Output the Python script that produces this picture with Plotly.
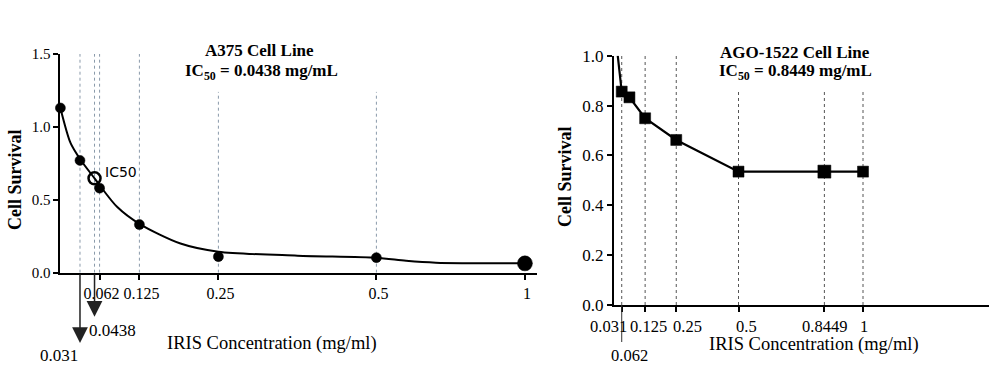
import plotly.graph_objects as go

# ---------------- data ----------------
# Left panel: A375 cell line
a375_conc = [0.0, 0.031, 0.062, 0.125, 0.25, 0.5, 1.0]
a375_surv = [1.13, 0.77, 0.58, 0.33, 0.11, 0.103, 0.064]
a375_fit_conc = [0.0, 0.016, 0.031, 0.054, 0.062, 0.09, 0.125, 0.19, 0.25, 0.375, 0.5, 0.6, 0.7, 1.0]
a375_fit_surv = [1.13, 0.89, 0.78, 0.647, 0.60, 0.45, 0.335, 0.20, 0.144, 0.117, 0.103, 0.082, 0.069, 0.064]
a375_ic50_label = "0.0438"
a375_ic50_pos = 0.054          # where the IC50 marker sits on the drawn axis
a375_ic50_surv = 0.647
a375_ticks = [0.062, 0.125, 0.25, 0.5, 1.0]
a375_tick_text = ["0.062", "0.125", "0.25", "0.5", "1"]
a375_guides_full = [0.031, 0.054, 0.062, 0.125]
a375_guides_short = [0.25, 0.5]

# Right panel: AGO-1522 cell line
ago_conc = [0.031, 0.062, 0.125, 0.25, 0.5, 0.8449, 1.0]
ago_surv = [0.856, 0.833, 0.749, 0.662, 0.535, 0.535, 0.535]
ago_line_conc = [0.015, 0.031, 0.062, 0.125, 0.25, 0.5, 0.8449, 1.0]
ago_line_surv = [1.0, 0.856, 0.833, 0.749, 0.662, 0.535, 0.535, 0.535]
ago_ticks = [0.031, 0.125, 0.25, 0.5, 0.8449, 1.0]
ago_tick_text = ["0.031", "0.125", "0.25", "0.5", "0.8449", "1"]
ago_guides_full = [0.031, 0.125, 0.25]
ago_guides_short = [0.5, 0.8449, 1.0]

FONT = "Liberation Serif"
W, H = 1000, 381


def brk(c):
    """Left panel x axis is compressed beyond 0.5 (broken axis)."""
    return c if c <= 0.5 else 0.5 + (c - 0.5) * 0.47


def px(x):
    return x / W


def py(y):
    return 1 - y / H


fig = go.Figure()

# ---- left panel traces ----
fig.add_trace(go.Scatter(
    x=[brk(c) for c in a375_fit_conc], y=a375_fit_surv, mode="lines",
    line=dict(color="black", width=2, shape="spline", smoothing=0.8),
    xaxis="x", yaxis="y", showlegend=False, hoverinfo="skip"))
fig.add_trace(go.Scatter(
    x=[brk(c) for c in a375_conc], y=a375_surv, mode="markers",
    marker=dict(color="#000000", opacity=1, size=[10, 10, 10, 10, 10, 10, 15],
                line=dict(width=0.5, color="#000000")),
    cliponaxis=False, xaxis="x", yaxis="y", showlegend=False))
fig.add_trace(go.Scatter(
    x=[a375_ic50_pos], y=[a375_ic50_surv], mode="markers",
    marker=dict(symbol="circle-open", color="black", size=12, line=dict(width=2.5, color="black")),
    cliponaxis=False, xaxis="x", yaxis="y", showlegend=False))

# ---- right panel traces ----
fig.add_trace(go.Scatter(
    x=ago_line_conc, y=ago_line_surv, mode="lines",
    line=dict(color="black", width=2.2),
    xaxis="x2", yaxis="y2", showlegend=False, hoverinfo="skip"))
fig.add_trace(go.Scatter(
    x=ago_conc, y=ago_surv, mode="markers",
    marker=dict(symbol="square", color="#000000", opacity=1, size=[11, 11, 11, 11, 11, 13, 11],
                line=dict(width=0.5, color="#000000")),
    cliponaxis=False, xaxis="x2", yaxis="y2", showlegend=False))

shapes = []
for c in a375_guides_full:
    shapes.append(dict(type="line", xref="x", yref="y", x0=c, x1=c, y0=0, y1=1.5,
                       line=dict(color="#8a9aaa", width=1, dash="dot"), layer="below"))
for c in a375_guides_short:
    shapes.append(dict(type="line", xref="x", yref="y", x0=c, x1=c, y0=0, y1=1.24,
                       line=dict(color="#8a9aaa", width=1, dash="dot"), layer="below"))
for c in ago_guides_full:
    shapes.append(dict(type="line", xref="x2", yref="y2", x0=c, x1=c, y0=0, y1=1.0,
                       line=dict(color="#555555", width=1, dash="dot"), layer="below"))
for c in ago_guides_short:
    shapes.append(dict(type="line", xref="x2", yref="y2", x0=c, x1=c, y0=0, y1=0.862,
                       line=dict(color="#555555", width=1, dash="dot"), layer="below"))
# short solid line under the right axis towards the 0.062 label
shapes.append(dict(type="line", xref="x2", yref="paper", x0=ago_conc[0], x1=ago_conc[0],
                   y0=py(305), y1=py(342), line=dict(color="#333333", width=1)))


def label(text, x, y, size=16, bold=False, xref="paper", yref="paper", **kw):
    d = dict(text=("<b>%s</b>" % text) if bold else text, x=x, y=y, xref=xref, yref=yref,
             showarrow=False, xanchor=kw.pop("xanchor", "center"), yanchor=kw.pop("yanchor", "middle"),
             font=dict(family=kw.pop("family", FONT), size=size, color="black"))
    d.update(kw)
    return d


ann = []
# titles
ann.append(label("A375 Cell Line", px(259), py(50), 17, True))
ann.append(label("IC<sub>50</sub> = " + a375_ic50_label + " mg/mL", px(261), py(72), 17, True))
ann.append(label("AGO-1522 Cell Line", px(795), py(52.7), 17, True))
ann.append(label("IC<sub>50</sub> = 0.8449 mg/mL", px(795), py(72), 17, True))
# axis titles
for cx, cy in [(272, 343), (814, 344)]:
    ann.append(label("IRIS Concentration (mg/ml)", px(cx), py(cy), 18.5))
for cx, cy in [(15, 180), (565, 177)]:
    ann.append(label("Cell Survival", px(cx), py(cy), 18, True, textangle=-90))
# IC50 label
ann.append(label("IC50", a375_ic50_pos, a375_ic50_surv, 14, xref="x", yref="y",
                 xanchor="left", xshift=8, yshift=6, family="DejaVu Sans"))
# arrows below left axis
ann.append(dict(text="", x=a375_conc[1], y=py(343), xref="x", yref="paper",
                showarrow=True, ax=0, ay=-70, arrowhead=2, arrowsize=2.1, arrowwidth=1.5,
                arrowcolor="#222222"))
ann.append(dict(text="", x=a375_ic50_pos, y=py(316.7), xref="x", yref="paper",
                showarrow=True, ax=0, ay=-44, arrowhead=2, arrowsize=2.1, arrowwidth=1.5,
                arrowcolor="#222222"))
ann.append(label("0.031", px(58.7), py(355), 17))
ann.append(label(a375_ic50_label, px(112), py(330.7), 17))
# right panel tick labels (hand-placed in the original)
label_shift = {"0.031": -13, "0.125": 3, "0.25": 11, "0.5": 8, "0.8449": 0, "1": 1}
for v, t in zip(ago_ticks, ago_tick_text):
    ann.append(label(t, v, py(326), 16.5, xref="x2", xshift=label_shift[t]))
ann.append(label("0.062", ago_conc[1], py(355), 16.5, xref="x2"))

axis_common = dict(showline=True, linewidth=2, linecolor="black", showgrid=False, zeroline=False,
                   ticks="outside", ticklen=5, tickwidth=2, tickcolor="black", automargin=False,
                   fixedrange=True)


def tf(size):
    return dict(family=FONT, size=size, color="black")


fig.update_layout(
    template="none",
    width=W, height=H, margin=dict(l=0, r=0, t=0, b=0, pad=0), autosize=False,
    paper_bgcolor="white", plot_bgcolor="white", showlegend=False,
    xaxis=dict(domain=[px(60.4), px(536.7)], range=[0, (536.7 - 60.4) / 632], anchor="y",
               tickvals=[brk(c) for c in a375_ticks], ticktext=a375_tick_text, tickangle=0,
               tickfont=tf(16), ticklabelshift=2, **axis_common),
    yaxis=dict(domain=[py(272.7), py(54)], range=[0, 1.5], anchor="x",
               tickvals=[0, 0.5, 1.0, 1.5], ticktext=["0.0", "0.5", "1.0", "1.5"],
               tickfont=tf(15), **axis_common),
    xaxis2=dict(domain=[px(614), px(989)], range=[0, (989 - 614) / 249], anchor="y2",
                tickvals=ago_ticks, showticklabels=False, tickfont=tf(16), **axis_common),
    yaxis2=dict(domain=[py(305), py(55.7)], range=[0, 1.0], anchor="x2",
                tickvals=[0, 0.2, 0.4, 0.6, 0.8, 1.0], tickformat=".1f",
                tickfont=tf(17), **axis_common),
    shapes=shapes, annotations=ann,
)

fig.write_html("out.html", config={"displayModeBar": False},
               post_script="document.body.style.margin='0';")
